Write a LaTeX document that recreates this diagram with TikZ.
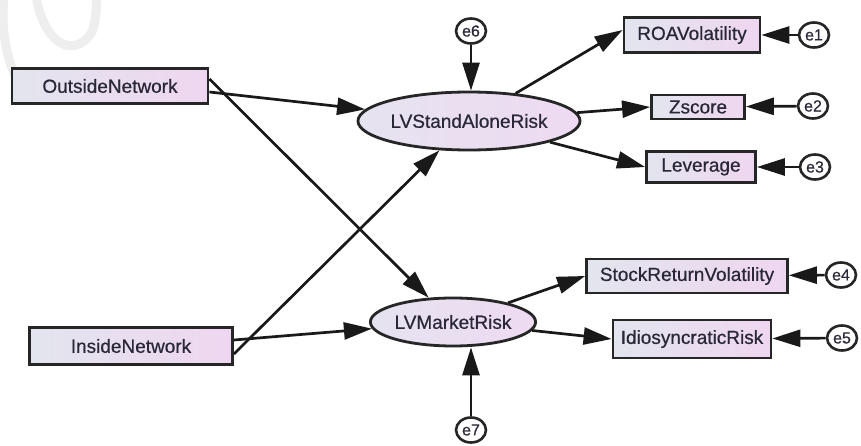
\documentclass[tikz,border=0pt]{standalone}
\usepackage{fontspec}
\setmainfont{Liberation Sans}
\newfontfamily\diagfont{Liberation Sans}[FakeBold=0.6]
\usetikzlibrary{shapes.geometric,arrows.meta}
\definecolor{boxL}{HTML}{E2E5EE}
\definecolor{boxR}{HTML}{EFD6F0}
\definecolor{ellL}{HTML}{E6E3F0}
\definecolor{ellR}{HTML}{EEDAF2}
\definecolor{txt}{HTML}{2A2838}
\definecolor{wmark}{HTML}{EEEEEE}
\tikzset{
  obs/.style={rectangle, draw=black!85, line width=2.8pt, left color=boxL, right color=boxR,
    inner sep=0pt, text=txt, font=\diagfont\fontsize{19}{21}\selectfont},
  lat/.style={ellipse, draw=black!85, line width=2.8pt, left color=ellL, right color=ellR,
    inner sep=0pt, text=txt, font=\diagfont\fontsize{19}{21}\selectfont},
  err/.style={ellipse, draw=black!85, line width=2.6pt, fill=white, minimum width=30pt,
    minimum height=25pt, inner sep=0pt, text=txt, font=\diagfont\fontsize{16}{18}\selectfont},
  path/.style={line width=2.7pt, draw=black!90, -{Triangle[length=28pt,width=17pt]}},
  wm/.style={draw=wmark, line width=9pt, line cap=round}
}
\begin{document}
\begin{tikzpicture}[x=1pt,y=-1pt]
\useasboundingbox (0,0) rectangle (861,446);
\fill[white] (0,0) rectangle (861,446);
% faint watermark fragment
\draw[wm] (4,-5) .. controls (0,35) and (8,70) .. (28,100);
\draw[wm] (36,-5) .. controls (42,40) and (72,62) .. (92,32) .. controls (96,20) and (97,8) .. (96,-5);
% nodes
\node[obs, minimum width=196pt, minimum height=35pt] (on) at (110,86) {OutsideNetwork};
\node[obs, minimum width=203pt, minimum height=37pt] (in) at (131,346) {InsideNetwork};
\node[lat, minimum width=188pt, minimum height=58pt] (lvs) at (469,121) {LVStandAloneRisk};
\node[lat, minimum width=156pt, minimum height=48pt] (lvm) at (453,322) {LVMarketRisk};
\node[obs, minimum width=136pt, minimum height=35pt] (roa) at (692,35) {ROAVolatility};
\node[obs, minimum width=93pt, minimum height=24pt] (zs) at (698,107) {Zscore};
\node[obs, minimum width=109pt, minimum height=31pt] (lev) at (701,167) {Leverage};
\node[obs, minimum width=201pt, minimum height=34pt] (srv) at (687,276) {StockReturnVolatility};
\node[obs, minimum width=158pt, minimum height=38pt] (idr) at (692,339) {IdiosyncraticRisk};
\node[err] (e6) at (471,31) {e6};
\node[err] (e7) at (471,430) {e7};
\node[err] (e1) at (814,35) {e1};
\node[err] (e2) at (813,106) {e2};
\node[err] (e3) at (815,167) {e3};
\node[err] (e4) at (841,275) {e4};
\node[err] (e5) at (842,338) {e5};
% connectors
\draw[path] ([yshift=-6pt]on.east) -- (lvs);
\draw[path] ([yshift=7pt]on.east) -- (lvm);
\draw[path] ([yshift=-8pt]in.east) -- (lvs);
\draw[path] ([yshift=6pt]in.east) -- (lvm);
\draw[path] (lvs) -- ([yshift=5pt]roa.west);
\draw[path] (lvs) -- (zs.west);
\draw[path] (lvs) -- (lev.west);
\draw[path] (lvm) -- (srv.west);
\draw[path] (lvm) -- (idr.west);
\draw[path] (e6) -- (e6 |- lvs.north);
\draw[path] (e7) -- (e7 |- lvm.south);
\draw[path] (e1) -- (roa);
\draw[path] (e2) -- (zs);
\draw[path] (e3) -- (lev);
\draw[path] (e4) -- (srv);
\draw[path] (e5) -- (idr);
\end{tikzpicture}
\end{document}
